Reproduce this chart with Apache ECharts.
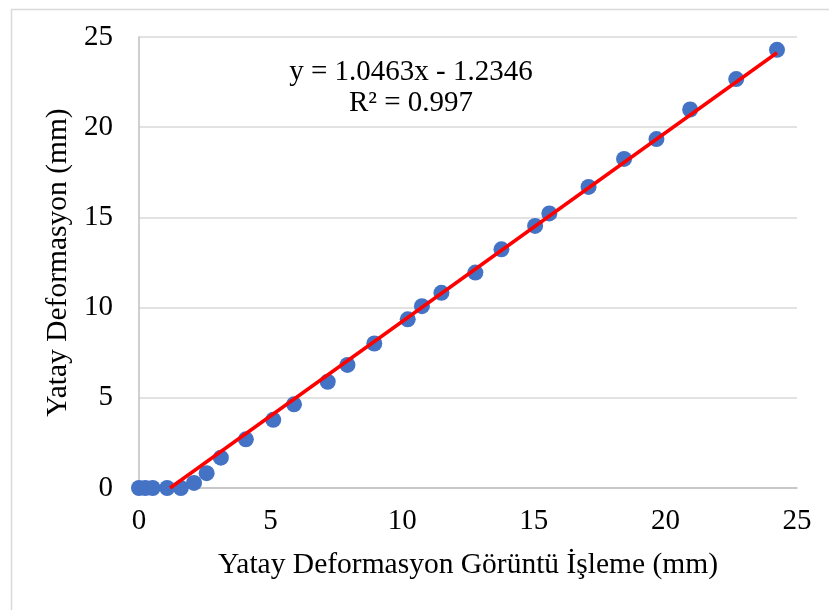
<!DOCTYPE html>
<html>
<head>
<meta charset="utf-8">
<script src="https://cdn.jsdelivr.net/npm/echarts@6/dist/echarts.min.js"></script>
<style>html,body{margin:0;padding:0;background:#fff}#c{width:829px;height:610px}</style>
</head>
<body>
<div id="c"></div>
<script>
// Data
const xValues = [0, 0.24, 0.52, 1.07, 1.59, 2.09, 2.57, 3.11, 4.06, 5.10, 5.89, 7.17, 7.92, 8.94, 10.21, 10.75, 11.49, 12.78, 13.77, 15.05, 15.59, 17.08, 18.43, 19.66, 20.94, 22.69, 24.24];
const yValues = [0, 0, 0, 0, 0, 0.28, 0.82, 1.68, 2.70, 3.78, 4.64, 5.89, 6.82, 8.01, 9.35, 10.08, 10.82, 11.94, 13.23, 14.53, 15.22, 16.69, 18.24, 19.34, 20.98, 22.67, 24.29];
const trendSlope = 1.0463;
const trendIntercept = -1.2346;
const rSquared = 0.997;
const xTicks = [0, 5, 10, 15, 20, 25];
const yTicks = [0, 5, 10, 15, 20, 25];
const xAxisTitle = 'Yatay Deformasyon Görüntü İşleme (mm)';
const yAxisTitle = 'Yatay Deformasyon (mm)';

const points = xValues.map((x, i) => [x, yValues[i]]);
const xMax = Math.max(...xValues);
const xStart = Math.max(Math.min(...xValues), -trendIntercept / trendSlope);
const trendPts = [xStart, xMax].map(x => [x, trendSlope * x + trendIntercept]);
const eqText = 'y = ' + trendSlope.toFixed(4) + 'x - ' + Math.abs(trendIntercept).toFixed(4) + '\nR² = ' + rSquared;

const FONT = '"Liberation Serif", "Times New Roman", serif';
const chart = echarts.init(document.getElementById('c'), null, {renderer: 'canvas'});
chart.setOption({
  animation: false,
  backgroundColor: '#fff',
  grid: {left: 139, right: 32, top: 37, bottom: 122, containLabel: false},
  xAxis: {
    type: 'value', min: xTicks[0], max: xTicks[xTicks.length - 1], interval: xTicks[1] - xTicks[0],
    name: xAxisTitle, nameLocation: 'middle', nameGap: 62,
    nameTextStyle: {fontFamily: FONT, fontSize: 29.5, color: '#000'},
    axisLine: {show: true, onZero: false, lineStyle: {color: '#bfbfbf', width: 1.5}},
    axisTick: {show: false},
    splitLine: {show: false},
    axisLabel: {fontFamily: FONT, fontSize: 29, color: '#000', margin: 19}
  },
  yAxis: {
    type: 'value', min: yTicks[0], max: yTicks[yTicks.length - 1], interval: yTicks[1] - yTicks[0],
    name: yAxisTitle, nameLocation: 'middle', nameGap: 59, nameRotate: 90,
    nameTextStyle: {fontFamily: FONT, fontSize: 29.5, color: '#000'},
    axisLine: {show: true, onZero: false, lineStyle: {color: '#bfbfbf', width: 1.5}},
    axisTick: {show: false},
    splitLine: {show: true, lineStyle: {color: '#d9d9d9', width: 1.5}},
    axisLabel: {fontFamily: FONT, fontSize: 29, color: '#000', margin: 26}
  },
  graphic: [
    {type: 'rect', left: 9, top: 7, shape: {width: 900, height: 700}, style: {fill: 'none', stroke: '#d9d9d9', lineWidth: 1.5}, silent: true, z: -10},
    {type: 'text', x: 411, y: 57, style: {text: eqText, font: '29px ' + FONT, fill: '#000', align: 'center', verticalAlign: 'top', lineHeight: 31}, silent: true}
  ],
  series: [
    {type: 'scatter', data: points, symbol: 'circle', symbolSize: 16, itemStyle: {color: '#4472C4', opacity: 1}, z: 2},
    {type: 'line', data: trendPts, symbol: 'none', lineStyle: {color: '#FF0000', width: 3.5}, z: 3}
  ]
});
</script>
</body>
</html>
